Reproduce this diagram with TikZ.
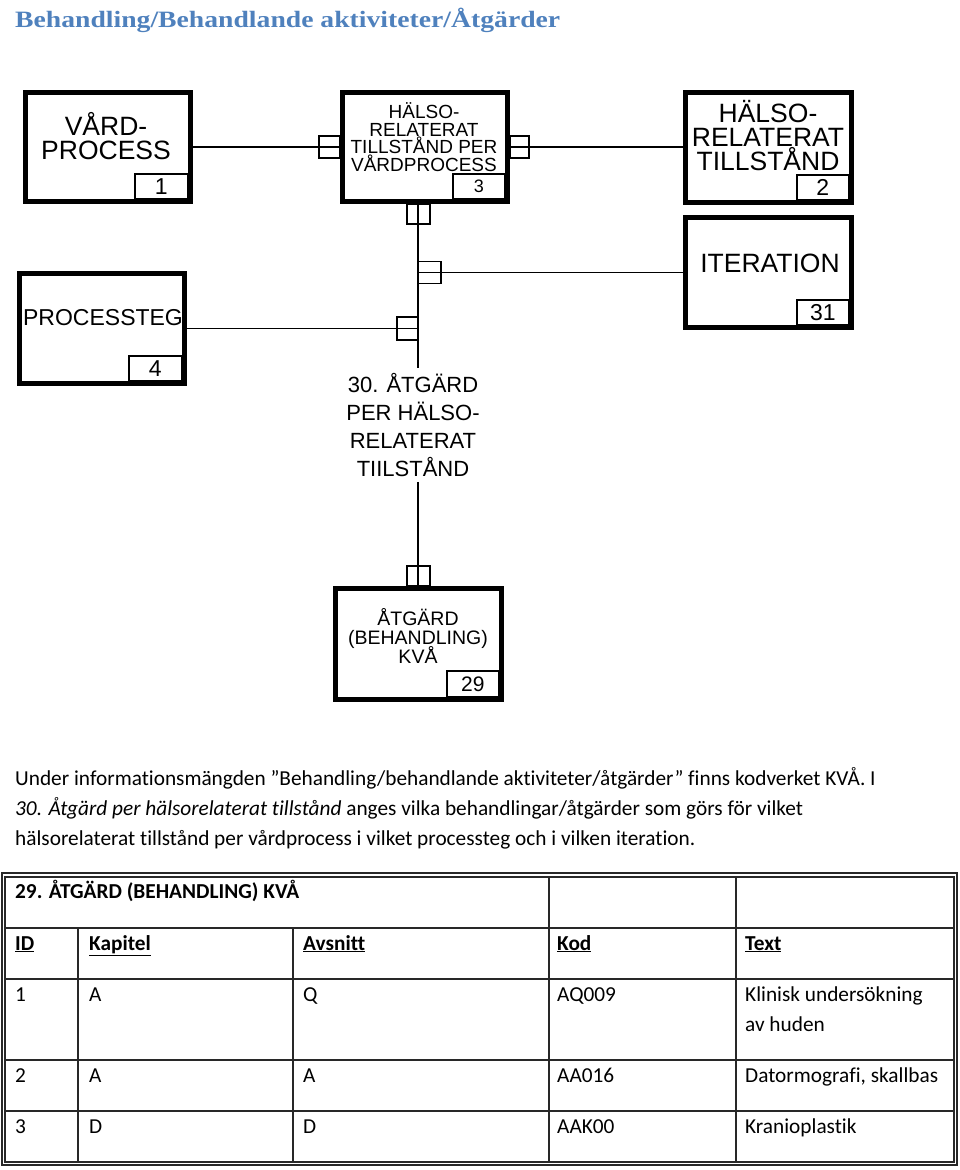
\documentclass[tikz,border=0pt]{standalone}
\usepackage{fontspec}
\setmainfont{Carlito}[Ligatures={NoCommon}]
\newfontfamily\arial{Liberation Sans}
\newfontfamily\headserif{Liberation Serif}
\definecolor{headblue}{RGB}{79,129,189}
\definecolor{gridgray}{RGB}{40,40,40}
\newcommand{\tightlines}{\lineskiplimit=-30pt\relax}
\begin{document}
\begin{tikzpicture}[x=1pt,y=-1pt,
  ent/.style={draw, line width=5pt, minimum width=165pt, minimum height=109pt, inner sep=0pt},
  numbox/.style={draw, line width=1.4pt, minimum width=53pt, minimum height=25pt, inner sep=0pt, anchor=south east},
  bignum/.style={font=\arial\fontsize{23}{23}\selectfont},
  smallnum/.style={font=\arial\fontsize{18}{18}\selectfont},
  etext/.style={align=center, inner sep=0pt, font=\arial\fontsize{26.5}{24}\selectfont\tightlines},
  stext/.style={align=center, inner sep=0pt, font=\arial\fontsize{19}{17.5}\selectfont\tightlines},
  conn/.style={line width=1.8pt},
  card/.style={line width=1.6pt},
  tframe/.style={line width=1.2pt, draw=gridgray},
  tgrid/.style={line width=1.2pt, draw=gridgray},
  ttext/.style={anchor=base west, inner sep=0pt, font=\fontsize{21.3}{25}\selectfont},
  ptext/.style={anchor=base west, inner sep=0pt, font=\fontsize{21.3}{30}\selectfont}
]
\useasboundingbox (0,0) rectangle (960,1170);

% title
\node[anchor=base west, inner sep=0pt, text=headblue] (title) at (15,27) {\resizebox{545pt}{19.4pt}{\headserif\bfseries\fontsize{21}{24}\selectfont Behandling/Behandlande aktiviteter/Åtgärder}};

% entity boxes
\node[ent] (b1) at (108,147) {};
\node[ent] (b3) at (425,147) {};
\node[ent, minimum width=166pt, minimum height=110pt] (b2) at (768.5,147.5) {};
\node[ent, minimum width=166pt, minimum height=110pt] (b31) at (768.5,272.5) {};
\node[ent, minimum height=110pt] (b4) at (102,328.5) {};
\node[ent, minimum width=166pt, minimum height=111pt] (b29) at (418.5,644) {};

% number boxes
\node[numbox, bignum] (b1n) at ([shift={(-4.5,-4.5)}]b1.south east) {1};
\node[numbox, smallnum, minimum width=52pt] (b3n) at ([shift={(-4.5,-4.5)}]b3.south east) {3};
\node[numbox, bignum, minimum width=52pt] (b2n) at ([shift={(-4.5,-4.5)}]b2.south east) {2};
\node[numbox, bignum, minimum width=52pt] (b31n) at ([shift={(-4.5,-4.5)}]b31.south east) {31};
\node[numbox, bignum] (b4n) at ([shift={(-4.5,-4.5)}]b4.south east) {4};
\node[numbox, minimum width=52pt, minimum height=26pt, font=\arial\fontsize{21}{21}\selectfont] (b29n) at ([shift={(-4.5,-4.5)}]b29.south east) {29};

% box texts
\node[etext] (b1t) at (106,136) {VÅRD-\\PROCESS};
\node[stext] (b3t) at (424,137) {HÄLSO-\\RELATERAT\\TILLSTÅND PER\\VÅRDPROCESS};
\node[etext] (b2t) at (768,136) {HÄLSO-\\RELATERAT\\TILLSTÅND};
\node[etext] (b31t) at (770,263) {ITERATION};
\node[inner sep=0pt, font=\arial\fontsize{23}{23}\selectfont] (b4t) at (103,318) {PROCESSTEG};
\node[stext, font=\arial\fontsize{19.5}{19}\selectfont\tightlines] (b29t) at (418,636) {ÅTGÄRD\\(BEHANDLING)\\KVÅ};

% relationship label
\node[align=center, inner xsep=0pt, inner ysep=5pt, font=\arial\fontsize{22}{28}\selectfont] (lab30) at (413,425) {30. ÅTGÄRD\\PER HÄLSO-\\RELATERAT\\TIILSTÅND};
\coordinate (vx) at (418,0);

% connectors
\draw[conn] (b1.east) -- (b3.west);
\draw[conn] (b3.east) -- (b3.east -| b2.west);
\draw[conn] (vx |- b3.south) -- (vx |- lab30.north);
\draw[conn] (vx |- lab30.south) -- (vx |- b29.north);
\draw[conn] (vx |- b31.west) -- (b31.west);
\draw[conn] (b4.east) -- (vx |- b4.east);

% cardinality marks
\draw[card] ([shift={(-21,-11)}]b3.west) rectangle ([shift={(0,11)}]b3.west);
\draw[card] ([shift={(0,-11)}]b3.east) rectangle ([shift={(19,11)}]b3.east);
\draw[card] ([shift={(-11,0)}]vx |- b3.south) rectangle ([shift={(12,20)}]vx |- b3.south);
\draw[card] ([shift={(0,-11)}]vx |- b31.west) rectangle ([shift={(23,11)}]vx |- b31.west);
\draw[card] ([shift={(-21,-11.5)}]vx |- b4.east) rectangle ([shift={(0,11.5)}]vx |- b4.east);
\draw[card] ([shift={(-11,-20)}]vx |- b29.north) rectangle ([shift={(12,0)}]vx |- b29.north);

% paragraph
\node[ptext] (p1) at (15,785) {Under informationsmängden ”Behandling/behandlande aktiviteter/åtgärder” finns kodverket KVÅ. I};
\node[ptext] (p2) at (15,815) {\textit{30. Åtgärd per hälsorelaterat tillstånd} anges vilka behandlingar/åtgärder som görs för vilket};
\node[ptext] (p3) at (15,845) {hälsorelaterat tillstånd per vårdprocess i vilket processteg och i vilken iteration.};

% table frame
\draw[tframe] (2,873) rectangle (957,1165);
\draw[tframe] (5,877) rectangle (954,1162);
\draw[tgrid] (5,928) -- (954,928);
\draw[tgrid] (5,979) -- (954,979);
\draw[tgrid] (5,1060) -- (954,1060);
\draw[tgrid] (5,1111) -- (954,1111);
\draw[tgrid] (78,928) -- (78,1162);
\draw[tgrid] (293,928) -- (293,1162);
\draw[tgrid] (549,877) -- (549,1162);
\draw[tgrid] (736,877) -- (736,1162);

% table text
\node[ttext, font=\bfseries\fontsize{21.3}{25}\selectfont] (th) at (15,898) {29. ÅTGÄRD (BEHANDLING) KVÅ};
\node[ttext, font=\bfseries\fontsize{21.3}{25}\selectfont] (h1) at (15,950) {\underline{ID}};
\node[ttext, font=\bfseries\fontsize{21.3}{25}\selectfont] (h2) at (89,950) {\underline{Kapitel}};
\node[ttext, font=\bfseries\fontsize{21.3}{25}\selectfont] (h3) at (303,950) {\underline{Avsnitt}};
\node[ttext, font=\bfseries\fontsize{21.3}{25}\selectfont] (h4) at (557,950) {\underline{Kod}};
\node[ttext, font=\bfseries\fontsize{21.3}{25}\selectfont] (h5) at (745,950) {\underline{Text}};

\node[ttext] (r1a) at (15,1001) {1};
\node[ttext] (r1b) at (89,1001) {A};
\node[ttext] (r1c) at (303,1001) {Q};
\node[ttext] (r1d) at (557,1001) {AQ009};
\node[ttext] (r1e) at (745,1001) {Klinisk undersökning};
\node[ttext] (r1f) at (745,1031) {av huden};

\node[ttext] (r2a) at (15,1082) {2};
\node[ttext] (r2b) at (89,1082) {A};
\node[ttext] (r2c) at (303,1082) {A};
\node[ttext] (r2d) at (557,1082) {AA016};
\node[ttext] (r2e) at (745,1082) {Datormografi, skallbas};

\node[ttext] (r3a) at (15,1133) {3};
\node[ttext] (r3b) at (89,1133) {D};
\node[ttext] (r3c) at (303,1133) {D};
\node[ttext] (r3d) at (557,1133) {AAK00};
\node[ttext] (r3e) at (745,1133) {Kranioplastik};
\end{tikzpicture}
\end{document}
